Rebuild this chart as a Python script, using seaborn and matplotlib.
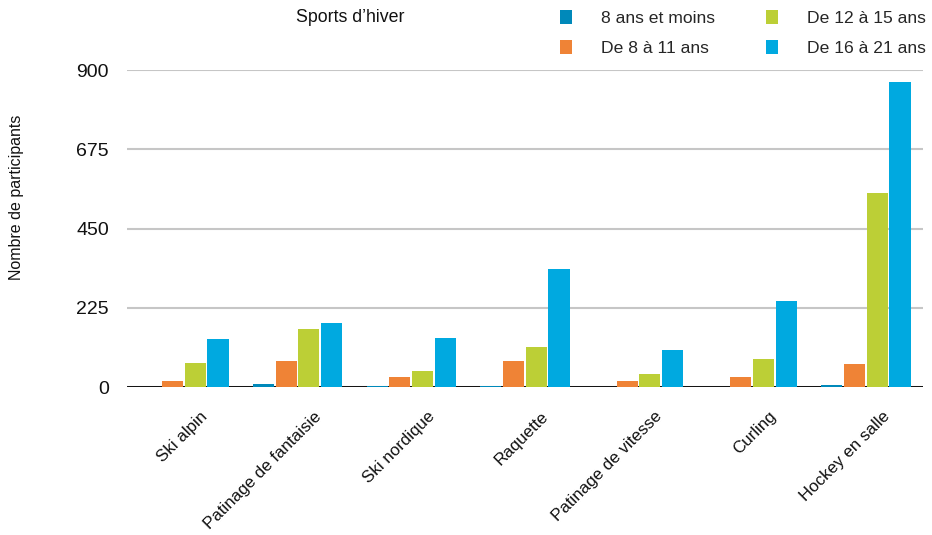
import matplotlib
matplotlib.use("Agg")
import matplotlib.pyplot as plt
import matplotlib.transforms as mtransforms
from matplotlib.patches import Patch
import seaborn as sns
import pandas as pd

sports = ["Ski alpin", "Patinage de fantaisie", "Ski nordique", "Raquette",
          "Patinage de vitesse", "Curling", "Hockey en salle"]
groups = ["8 ans et moins", "De 8 à 11 ans", "De 12 à 15 ans", "De 16 à 21 ans"]
age_8_less = [0, 9, 3, 3, 0, 0, 5]
age_8_11 = [18, 74, 29, 74, 17, 29, 65]
age_12_15 = [69, 165, 46, 114, 37, 80, 551]
age_16_21 = [136, 182, 139, 335, 105, 244, 866]
colors = ["#0089BA", "#EF8336", "#BCCF36", "#00A9E0"]
yticks = [0, 225, 450, 675, 900]

rows = []
for g, vals in zip(groups, [age_8_less, age_8_11, age_12_15, age_16_21]):
    for s, v in zip(sports, vals):
        rows.append({"sport": s, "groupe": g, "n": v})
df = pd.DataFrame(rows)

sns.set_theme(style="white")
plt.rcParams["font.family"] = ["Liberation Sans", "DejaVu Sans"]

fig = plt.figure(figsize=(9.32, 5.35), dpi=100)
ax = fig.add_axes([0.1363, 0.2766, 0.8537, 0.5925])

sns.barplot(data=df, x="sport", y="n", hue="groupe", hue_order=groups,
            order=sports, palette=colors, width=0.8, gap=0.07,
            linewidth=0, saturation=1, legend=False, ax=ax, zorder=3)

ax.set_ylim(0, 900)
ax.set_xlim(-0.5, len(sports) - 0.5)
ax.set_yticks(yticks)
ax.set_yticklabels([str(t) for t in yticks], fontsize=14, color="#111111")
ax.yaxis.grid(True, color="#c6c6c6", linewidth=1.5)
ax.set_axisbelow(True)
ax.axhline(0, color="black", linewidth=2, zorder=2)
for sp in ax.spines.values():
    sp.set_visible(False)
ax.tick_params(axis="y", length=0, pad=13)
ax.tick_params(axis="x", length=0, pad=4)
ax.set_xlabel("")
ax.set_ylabel("")

offset = mtransforms.ScaledTranslation(0.16, -0.16, fig.dpi_scale_trans)
ax.set_xticks(range(len(sports)))
ax.set_xticklabels(sports, rotation=45, ha="right", rotation_mode="anchor",
                   fontsize=12.2, color="#111111")
for lab in ax.get_xticklabels():
    lab.set_transform(lab.get_transform() + offset)

fig.text(17 / 932, 1 - 197 / 535, "Nombre de participants", rotation=90,
         ha="center", va="center", fontsize=11.5, color="#111111")
fig.text(350 / 932, 1 - 17 / 535, "Sports d\u2019hiver", ha="center",
         va="center", fontsize=12.8, color="#111111")

handles = [Patch(facecolor=c, edgecolor="none") for c in colors]
fig.legend(handles, groups, ncol=2, loc="upper left",
           bbox_to_anchor=(560 / 932, 1 - 10 / 535), frameon=False,
           fontsize=12.6, handlelength=0.7, handleheight=0.85,
           handletextpad=1.65, columnspacing=2.9, labelspacing=0.78,
           borderpad=0, borderaxespad=0)

fig.savefig("out.png", dpi=100)
